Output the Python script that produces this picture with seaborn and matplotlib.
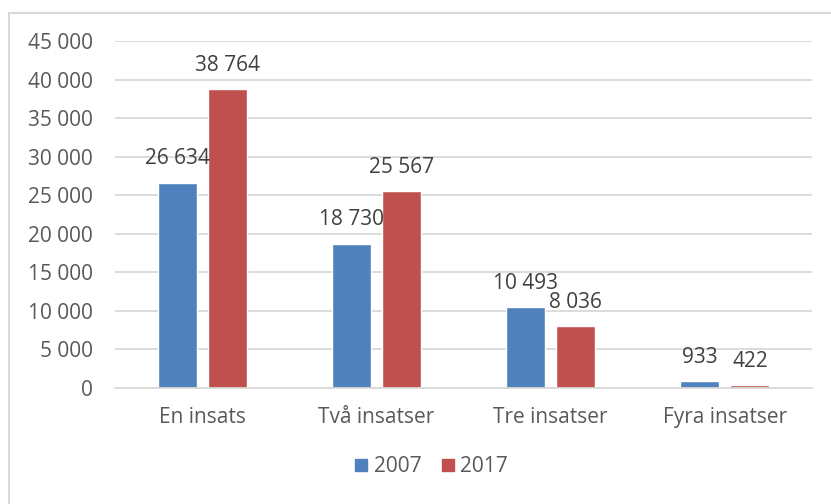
import pandas as pd
import seaborn as sns
import matplotlib.pyplot as plt
from matplotlib.lines import Line2D
from matplotlib.ticker import FuncFormatter

categories = ['En insats', 'Två insatser', 'Tre insatser', 'Fyra insatser']
years = ['2007', '2017']
values_2007 = [26634, 18730, 10493, 933]
values_2017 = [38764, 25567, 8036, 422]

df = pd.DataFrame({
    'kategori': categories * 2,
    'år': ['2007'] * 4 + ['2017'] * 4,
    'antal': values_2007 + values_2017,
})

sns.set_style('white')
plt.rcParams['font.family'] = ['Open Sans', 'DejaVu Sans']

fig = plt.figure(figsize=(8.31, 5.04), dpi=100)
ax = fig.add_axes([115 / 831, 116 / 504, 697 / 831, 347 / 504])

palette = {'2007': '#4F81BD', '2017': '#C0504D'}
sns.barplot(data=df, x='kategori', y='antal', hue='år', palette=palette,
            width=0.575, gap=0.22, saturation=1, ax=ax, legend=False)

def fmt(v):
    return f'{int(v):,}'.replace(',', ' ')

for cont in ax.containers:
    ax.bar_label(cont, labels=[fmt(b.get_height()) for b in cont],
                 padding=9.5, fontsize=15, color='#404040')

ax.set_ylim(0, 45000)
ax.set_yticks(range(0, 45001, 5000))
ax.yaxis.set_major_formatter(FuncFormatter(lambda v, p: fmt(v)))
ax.grid(axis='y', color='#D9D9D9', linewidth=1.3)
ax.set_axisbelow(True)
for s in ['top', 'right', 'left']:
    ax.spines[s].set_visible(False)
ax.spines['bottom'].set_color('#D9D9D9')
ax.spines['bottom'].set_linewidth(1.3)
ax.tick_params(axis='both', length=0, labelsize=15, labelcolor='#595959')
ax.tick_params(axis='y', pad=16)
ax.tick_params(axis='x', pad=14)
ax.set_xlabel('')
ax.set_ylabel('')

handles = [Line2D([], [], marker='s', linestyle='', markersize=8.5,
                  color=palette[y]) for y in years]
fig.legend(handles, years, loc='center', bbox_to_anchor=(430 / 831, 1 - 467 / 504),
           ncol=2, frameon=False, fontsize=15, labelcolor='#595959',
           handlelength=0.9, handletextpad=0.15, columnspacing=0.8)

# chart border (only left and top are visible in the original crop)
fig.add_artist(Line2D([9 / 831, 9 / 831], [0, 1 - 13 / 504], color='#D9D9D9',
                      linewidth=1.5, transform=fig.transFigure))
fig.add_artist(Line2D([9 / 831, 1], [1 - 13 / 504, 1 - 13 / 504], color='#D9D9D9',
                      linewidth=1.5, transform=fig.transFigure))

fig.savefig('out.png', dpi=100)
